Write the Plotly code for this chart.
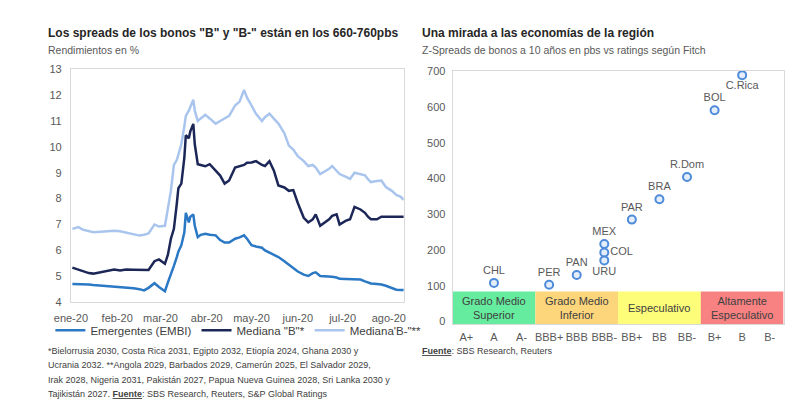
import plotly.graph_objects as go

# ---------------- Left chart data ----------------
dates = [
    "2020-01-02", "2020-01-06", "2020-01-09", "2020-01-13", "2020-01-16", "2020-01-21",
    "2020-01-26", "2020-01-30", "2020-02-03", "2020-02-07", "2020-02-12", "2020-02-16",
    "2020-02-19", "2020-02-22", "2020-02-26", "2020-02-29", "2020-03-04", "2020-03-06",
    "2020-03-08", "2020-03-10", "2020-03-12", "2020-03-13", "2020-03-15", "2020-03-17",
    "2020-03-18", "2020-03-20", "2020-03-21", "2020-03-23", "2020-03-24", "2020-03-26",
    "2020-03-28", "2020-03-31", "2020-04-03", "2020-04-07", "2020-04-10", "2020-04-13",
    "2020-04-16", "2020-04-20", "2020-04-23", "2020-04-26", "2020-04-28", "2020-05-01",
    "2020-05-04", "2020-05-08", "2020-05-10", "2020-05-13", "2020-05-16", "2020-05-19",
    "2020-05-23", "2020-05-26", "2020-05-29", "2020-06-01", "2020-06-05", "2020-06-08",
    "2020-06-11", "2020-06-13", "2020-06-16", "2020-06-19", "2020-06-22", "2020-06-24",
    "2020-06-27", "2020-06-29", "2020-07-03", "2020-07-06", "2020-07-09", "2020-07-13",
    "2020-07-16", "2020-07-18", "2020-07-20", "2020-07-24", "2020-07-27", "2020-07-30",
    "2020-08-03", "2020-08-06", "2020-08-09", "2020-08-11",
]

embi = [
    4.70, 4.70, 4.68, 4.68, 4.66, 4.64, 4.62, 4.60, 4.57, 4.55, 4.53, 4.50,
    4.45, 4.55, 4.73, 4.58, 4.42, 4.76, 5.05, 5.40, 5.75, 5.95, 6.20, 6.70,
    7.45, 7.08, 7.30, 7.39, 6.95, 6.51, 6.60, 6.64, 6.60, 6.58, 6.40, 6.30,
    6.30, 6.45, 6.50, 6.58, 6.45, 6.20, 6.15, 6.10, 6.00, 5.92, 5.82, 5.74,
    5.58, 5.45, 5.30, 5.18, 5.06, 5.01, 5.12, 5.15, 5.01, 5.00, 5.00, 4.98,
    4.95, 4.90, 4.89, 4.88, 4.88, 4.87, 4.80, 4.75, 4.72, 4.70, 4.68, 4.63,
    4.55, 4.48, 4.47, 4.47,
]

mediana_b = [
    5.33, 5.26, 5.20, 5.12, 5.10, 5.16, 5.20, 5.26, 5.22, 5.26, 5.25, 5.24,
    5.22, 5.24, 5.58, 5.65, 5.48, 5.83, 6.45, 6.83, 7.83, 8.40, 8.58, 9.58,
    10.45, 10.33, 10.60, 10.89, 10.10, 9.33, 9.30, 9.25, 9.33, 9.08, 8.89, 8.58,
    8.70, 9.20, 9.26, 9.30, 9.39, 9.40, 9.45, 9.30, 9.26, 9.45, 9.08, 8.51,
    8.43, 8.30, 8.33, 7.83, 7.26, 7.08, 7.20, 7.39, 6.95, 7.08, 7.20, 7.33,
    7.39, 7.00, 7.14, 7.20, 7.68, 7.58, 7.45, 7.30, 7.20, 7.20, 7.30, 7.30,
    7.30, 7.30, 7.30, 7.30,
]

mediana_bm = [
    6.83, 6.90, 6.80, 6.75, 6.70, 6.72, 6.75, 6.76, 6.74, 6.68, 6.60, 6.57,
    6.60, 6.65, 7.00, 6.92, 6.95, 7.60, 8.30, 9.30, 9.50, 9.70, 10.10, 10.80,
    11.20, 11.40, 11.57, 11.82, 11.40, 11.00, 11.10, 11.24, 11.10, 10.90, 11.00, 11.10,
    11.20, 11.60, 11.75, 12.20, 11.90, 11.60, 11.28, 11.00, 11.15, 11.28, 11.10, 10.90,
    10.53, 10.05, 9.90, 9.64, 9.45, 9.26, 9.30, 9.20, 8.95, 9.05, 9.15, 9.26,
    9.05, 8.95, 8.85, 8.76, 9.00, 8.95, 8.90, 8.75, 8.64, 8.68, 8.70, 8.45,
    8.30, 8.14, 8.07, 7.95,
]

month_ticks = ["2020-01-01", "2020-02-01", "2020-03-01", "2020-04-01",
               "2020-05-01", "2020-06-01", "2020-07-01", "2020-08-01"]
month_labels = ["ene-20", "feb-20", "mar-20", "abr-20", "may-20", "jun-20", "jul-20", "ago-20"]
left_yticks = [4, 5, 6, 7, 8, 9, 10, 11, 12, 13]

# ---------------- Right chart data ----------------
ratings = ["A+", "A", "A-", "BBB+", "BBB", "BBB-", "BB+", "BB", "BB-", "B+", "B", "B-"]
countries = ["CHL", "PER", "PAN", "MEX", "COL", "URU", "PAR", "BRA", "R.Dom", "BOL", "C.Rica"]
country_rating = ["A", "BBB+", "BBB", "BBB-", "BBB-", "BBB-", "BB+", "BB", "BB-", "B+", "B"]
zspread = [108, 103, 130, 217, 193, 171, 285, 342, 404, 591, 689]
label_pos = ["top center", "top center", "top center", "top center", "middle right",
             "bottom center", "top center", "top center", "top center", "top center",
             "bottom center"]
right_yticks = [0, 100, 200, 300, 400, 500, 600, 700]

band_names = ["Grado Medio<br>Superior", "Grado Medio<br>Inferior", "Especulativo",
              "Altamente<br>Especulativo"]
band_start = ["A+", "BBB+", "BB+", "B+"]
band_colors = ["#66EC9E", "#FDD67C", "#FDFD7A", "#F88282"]

FONT = "Liberation Sans, Arial, sans-serif"
GREY = "#595959"

fig = go.Figure()

fig.add_trace(go.Scatter(x=dates, y=embi, mode="lines", name="Emergentes (EMBI)",
                         line=dict(color="#2B78C5", width=2.5), xaxis="x", yaxis="y"))
fig.add_trace(go.Scatter(x=dates, y=mediana_b, mode="lines", name="Mediana \"B\"*",
                         line=dict(color="#1C2758", width=2.5), xaxis="x", yaxis="y"))
fig.add_trace(go.Scatter(x=dates, y=mediana_bm, mode="lines", name="Mediana'B-\"**",
                         line=dict(color="#A9C5EE", width=2.5), xaxis="x", yaxis="y"))

xs = [ratings.index(r) for r in country_rating]
fig.add_trace(go.Scatter(x=xs, y=zspread, mode="markers+text", text=countries,
                         textposition=label_pos, showlegend=False,
                         textfont=dict(size=11, color=GREY, family=FONT),
                         marker=dict(size=8, color="#E4EEFA",
                                     line=dict(color="#4F8BDB", width=2)),
                         xaxis="x2", yaxis="y2", cliponaxis=False))

shapes = []
annotations = []
for name, start, col in zip(band_names, band_start, band_colors):
    i0 = ratings.index(start)
    shapes.append(dict(type="rect", xref="x2", yref="y2", x0=i0 - 0.5, x1=i0 + 2.5,
                       y0=-8, y1=84, fillcolor=col, line=dict(width=0), layer="below"))
    annotations.append(dict(xref="x2", yref="y2", x=i0 + 1, y=38, text=name,
                            showarrow=False, font=dict(size=11, color="#404040", family=FONT)))

# Titles
annotations += [
    dict(xref="paper", yref="paper", x=22 / 800, y=1 - 20 / 399, xanchor="left", yanchor="middle",
         text="<b>Los spreads de los bonos \"B\" y \"B-\" están en los 660-760pbs</b>",
         showarrow=False, font=dict(size=12, color="#262626", family=FONT)),
    dict(xref="paper", yref="paper", x=22 / 800, y=1 - 37 / 399, xanchor="left", yanchor="middle",
         text="Rendimientos en %", showarrow=False, font=dict(size=10.5, color=GREY, family=FONT)),
    dict(xref="paper", yref="paper", x=405 / 800, y=1 - 20 / 399, xanchor="left", yanchor="middle",
         text="<b>Una mirada a las economías de la región</b>",
         showarrow=False, font=dict(size=12, color="#262626", family=FONT)),
    dict(xref="paper", yref="paper", x=405 / 800, y=1 - 37 / 399, xanchor="left", yanchor="middle",
         text="Z-Spreads de bonos a 10 años en pbs vs ratings según Fitch",
         showarrow=False, font=dict(size=10.5, color=GREY, family=FONT)),
]

foot_lines = [
    "*Bielorrusia 2030, Costa Rica 2031, Egipto 2032, Etiopía 2024, Ghana 2030 y",
    "Ucrania 2032. **Angola 2029, Barbados 2029, Camerún 2025, El Salvador 2029,",
    "Irak 2028, Nigeria 2031, Pakistán 2027, Papua Nueva Guinea 2028, Sri Lanka 2030 y",
    "Tajikistán 2027. <b><u>Fuente</u></b>: SBS Research, Reuters, S&P Global Ratings",
]
for k, line in enumerate(foot_lines):
    annotations.append(dict(xref="paper", yref="paper", x=22 / 800, y=1 - (347 + 15 * k) / 399,
                            xanchor="left", yanchor="middle", text=line, showarrow=False,
                            font=dict(size=9, color="#404040", family=FONT)))
annotations.append(dict(xref="paper", yref="paper", x=405 / 800, y=1 - 347 / 399,
                        xanchor="left", yanchor="middle",
                        text="<b><u>Fuente</u></b>: SBS Research, Reuters", showarrow=False,
                        font=dict(size=9, color="#404040", family=FONT)))

axis_common = dict(showgrid=False, zeroline=False, showline=True, mirror=True,
                   linecolor="#D9D9D9", linewidth=1,
                   tickfont=dict(size=11, color=GREY, family=FONT))

fig.update_layout(
    width=800, height=399, margin=dict(l=0, r=0, t=0, b=0),
    paper_bgcolor="white", plot_bgcolor="white",
    font=dict(family=FONT, color=GREY),
    xaxis=dict(domain=[47 / 800, 388 / 800], type="date",
               range=["2020-01-01", "2020-08-11"], tickvals=month_ticks, ticktext=month_labels,
               ticks="outside", ticklen=6, tickcolor="rgba(0,0,0,0)", anchor="y", **axis_common),
    yaxis=dict(domain=[(399 - 297) / 399, (399 - 57) / 399], range=[4, 13], tickvals=left_yticks,
               ticks="outside", ticklen=6, tickcolor="rgba(0,0,0,0)", anchor="x", **axis_common),
    xaxis2=dict(domain=[438 / 800, 777 / 800], range=[-0.5, 11.5],
                tickvals=list(range(len(ratings))), ticktext=ratings,
                ticks="outside", ticklen=2, tickcolor="rgba(0,0,0,0)", anchor="y2", **axis_common),
    yaxis2=dict(domain=[(399 - 320) / 399, (399 - 59) / 399], range=[-8, 700], tickvals=right_yticks,
                ticks="outside", ticklen=4, tickcolor="rgba(0,0,0,0)", anchor="x2", **axis_common),
    legend=dict(orientation="h", x=26 / 800, y=1 - 326 / 399, xanchor="left", yanchor="middle",
                font=dict(size=11.5, color="#404040", family=FONT), bgcolor="rgba(0,0,0,0)",
                itemwidth=30, tracegroupgap=0),
    shapes=shapes, annotations=annotations,
)

fig.write_html("out.html")
